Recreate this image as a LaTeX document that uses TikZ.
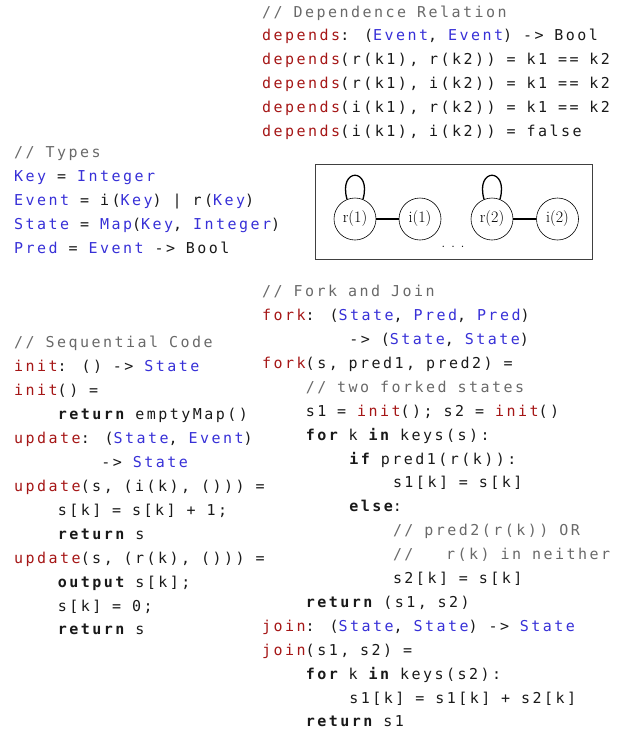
\documentclass[tikz,border=0pt]{standalone}
\usepackage{fontspec}
\newfontfamily\codefont[LetterSpace=16.5]{DejaVu Sans Mono}
\definecolor{fncol}{RGB}{165,22,22}
\definecolor{tycol}{RGB}{55,48,215}
\definecolor{cmcol}{RGB}{105,105,105}
\definecolor{txcol}{RGB}{25,25,25}
\newlength\cw \setlength\cw{10.9pt}
\newcommand\Fn[1]{\textcolor{fncol}{#1}}
\newcommand\Ty[1]{\textcolor{tycol}{#1}}
\newcommand\Kw[1]{{\bfseries #1}}
\newcommand\Cm[1]{\textcolor{cmcol}{#1}}
\tikzset{
  code/.style={anchor=base west, inner sep=0pt, text=txcol,
    font={\codefont\fontsize{15}{18}\selectfont\spaceskip=\cw\relax}},
  ev/.style={circle, draw, line width=0.6pt, minimum size=42pt, inner sep=0pt,
    font={\fontsize{16}{19}\selectfont}},
  link/.style={line width=1.3pt},
  frame/.style={draw=black!75, line width=0.8pt}
}
\begin{document}
\begin{tikzpicture}[x=1pt,y=-1pt]
\useasboundingbox (0,0) rectangle (629,732);
% Dependence relation
\node[code] (d0) at (262,{17+0*23.94}) {\Cm{// Dependence Relation}};
\node[code] (d1) at (262,{17+1*23.94}) {\Fn{depends}: (\Ty{Event}, \Ty{Event}) -> Bool};
\node[code] (d2) at (262,{17+2*23.94}) {\Fn{depends}(r(k1), r(k2)) = k1 == k2};
\node[code] (d3) at (262,{17+3*23.94}) {\Fn{depends}(r(k1), i(k2)) = k1 == k2};
\node[code] (d4) at (262,{17+4*23.94}) {\Fn{depends}(i(k1), r(k2)) = k1 == k2};
\node[code] (d5) at (262,{17+5*23.94}) {\Fn{depends}(i(k1), i(k2)) = false};
% Types
\node[code] (t0) at (14,{157.3+0*23.94}) {\Cm{// Types}};
\node[code] (t1) at (14,{157.3+1*23.94}) {\Ty{Key} = \Ty{Integer}};
\node[code] (t2) at (14,{157.3+2*23.94}) {\Ty{Event} = i(\Ty{Key}) | r(\Ty{Key})};
\node[code] (t3) at (14,{157.3+3*23.94}) {\Ty{State} = \Ty{Map}(\Ty{Key}, \Ty{Integer})};
\node[code] (t4) at (14,{157.3+4*23.94}) {\Ty{Pred} = \Ty{Event} -> Bool};
% Graph
\draw[frame] (315,164) rectangle (592,259);
\node[ev] (r1) at (355,219) {r(1)};
\node[ev] (i1) at (420,219) {i(1)};
\node[ev] (r2) at (492,219) {r(2)};
\node[ev] (i2) at (557.5,219) {i(2)};
\draw[link] (r1) -- (i1);
\draw[link] (r2) -- (i2);
\draw[link] (r1.112) .. controls +(-9,-32) and +(9,-32) .. (r1.68);
\draw[link] (r2.112) .. controls +(-9,-32) and +(9,-32) .. (r2.68);
\node[anchor=base, inner sep=0pt, font={\fontsize{16}{19}\selectfont}] (dots) at (453,247) {.\hspace{5.6pt}.\hspace{5.6pt}.};
% Sequential code
\node[code] (s0) at (14,{347.7+0*23.94}) {\Cm{// Sequential Code}};
\node[code] (s1) at (14,{347.7+1*23.94}) {\Fn{init}: () -> \Ty{State}};
\node[code] (s2) at (14,{347.7+2*23.94}) {\Fn{init}() =};
\node[code] (s3) at ({14+4*10.9},{347.7+3*23.94}) {\Kw{return} emptyMap()};
\node[code] (s4) at (14,{347.7+4*23.94}) {\Fn{update}: (\Ty{State}, \Ty{Event})};
\node[code] (s5) at ({14+8*10.9},{347.7+5*23.94}) {-> \Ty{State}};
\node[code] (s6) at (14,{347.7+6*23.94}) {\Fn{update}(s, (i(k), ())) =};
\node[code] (s7) at ({14+4*10.9},{347.7+7*23.94}) {s[k] = s[k] + 1;};
\node[code] (s8) at ({14+4*10.9},{347.7+8*23.94}) {\Kw{return} s};
\node[code] (s9) at (14,{347.7+9*23.94}) {\Fn{update}(s, (r(k), ())) =};
\node[code] (s10) at ({14+4*10.9},{347.7+10*23.94}) {\Kw{output} s[k];};
\node[code] (s11) at ({14+4*10.9},{347.7+11*23.94}) {s[k] = 0;};
\node[code] (s12) at ({14+4*10.9},{347.7+12*23.94}) {\Kw{return} s};
% Fork and join
\node[code] (f0) at (262,{296.7+0*23.9}) {\Cm{// Fork and Join}};
\node[code] (f1) at (262,{296.7+1*23.9}) {\Fn{fork}: (\Ty{State}, \Ty{Pred}, \Ty{Pred})};
\node[code] (f2) at ({262+8*10.9},{296.7+2*23.9}) {-> (\Ty{State}, \Ty{State})};
\node[code] (f3) at (262,{296.7+3*23.9}) {\Fn{fork}(s, pred1, pred2) =};
\node[code] (f4) at ({262+4*10.9},{296.7+4*23.9}) {\Cm{// two forked states}};
\node[code] (f5) at ({262+4*10.9},{296.7+5*23.9}) {s1 = \Fn{init}(); s2 = \Fn{init}()};
\node[code] (f6) at ({262+4*10.9},{296.7+6*23.9}) {\Kw{for} k \Kw{in} keys(s):};
\node[code] (f7) at ({262+8*10.9},{296.7+7*23.9}) {\Kw{if} pred1(r(k)):};
\node[code] (f8) at ({262+12*10.9},{296.7+8*23.9}) {s1[k] = s[k]};
\node[code] (f9) at ({262+8*10.9},{296.7+9*23.9}) {\Kw{else}:};
\node[code] (f10) at ({262+12*10.9},{296.7+10*23.9}) {\Cm{// pred2(r(k)) OR}};
\node[code] (f11) at ({262+12*10.9},{296.7+11*23.9}) {\Cm{//\hspace{3\cw}r(k) in neither}};
\node[code] (f12) at ({262+12*10.9},{296.7+12*23.9}) {s2[k] = s[k]};
\node[code] (f13) at ({262+4*10.9},{296.7+13*23.9}) {\Kw{return} (s1, s2)};
\node[code] (f14) at (262,{296.7+14*23.9}) {\Fn{join}: (\Ty{State}, \Ty{State}) -> \Ty{State}};
\node[code] (f15) at (262,{296.7+15*23.9}) {\Fn{join}(s1, s2) =};
\node[code] (f16) at ({262+4*10.9},{296.7+16*23.9}) {\Kw{for} k \Kw{in} keys(s2):};
\node[code] (f17) at ({262+8*10.9},{296.7+17*23.9}) {s1[k] = s1[k] + s2[k]};
\node[code] (f18) at ({262+4*10.9},{296.7+18*23.9}) {\Kw{return} s1};
\end{tikzpicture}
\end{document}
